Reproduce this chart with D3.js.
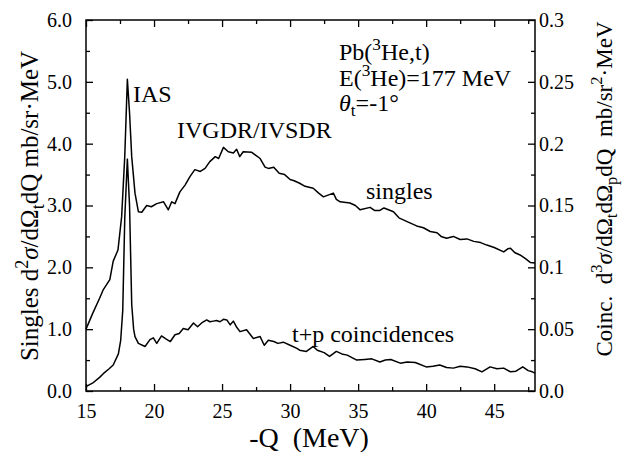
<!DOCTYPE html>
<html>
<head>
<meta charset="utf-8">
<script src="https://cdn.jsdelivr.net/npm/d3@7"></script>
<style>
  body { margin: 0; background: #fff; }
</style>
</head>
<body>
<div id="content"></div>
<script>
// -Q (MeV) vs singles cross section (left axis, mb/sr/MeV)
const singlesQ = [15.0, 15.5, 16.0, 16.25, 16.75, 17.0, 17.35, 17.62, 17.85, 18.04, 18.2, 18.36, 18.6, 18.85, 19.1, 19.46, 19.8, 20.2, 20.7, 21.05, 21.3, 21.54, 21.9, 22.28, 22.65, 23.0, 23.4, 23.75, 24.1, 24.5, 24.75, 25.1, 25.46, 25.83, 26.07, 26.3, 26.55, 27.18, 27.8, 28.16, 28.4, 28.8, 29.2, 29.6, 30.0, 30.3, 30.7, 31.1, 31.7, 32.1, 32.45, 33.18, 33.4, 33.68, 34.4, 34.8, 35.15, 35.88, 36.2, 36.6, 36.9, 37.6, 38.0, 38.6, 39.3, 39.8, 40.3, 40.8, 41.1, 41.5, 42.0, 42.5, 43.0, 43.5, 44.0, 44.46, 45.0, 45.7, 46.0, 46.2, 46.5, 46.9, 47.3, 47.65, 48.0]
const singlesVal = [1.00, 1.26, 1.50, 1.63, 1.80, 2.10, 2.28, 2.82, 3.80, 5.04, 4.50, 3.79, 3.20, 2.90, 2.89, 3.00, 2.98, 3.03, 3.06, 2.93, 3.06, 3.03, 3.22, 3.33, 3.47, 3.58, 3.55, 3.60, 3.71, 3.79, 3.76, 3.94, 3.87, 3.85, 3.91, 3.79, 3.87, 3.86, 3.76, 3.62, 3.60, 3.62, 3.52, 3.50, 3.42, 3.40, 3.36, 3.31, 3.28, 3.20, 3.14, 3.20, 3.10, 3.06, 3.04, 3.00, 2.93, 2.97, 2.92, 2.92, 2.96, 2.90, 2.80, 2.74, 2.67, 2.64, 2.58, 2.56, 2.50, 2.47, 2.50, 2.45, 2.46, 2.42, 2.40, 2.36, 2.32, 2.25, 2.30, 2.31, 2.24, 2.20, 2.14, 2.08, 2.07]

// -Q (MeV) vs t+p coincidence cross section (right axis)
const coincQ = [15.0, 15.5, 16.0, 16.27, 16.7, 17.0, 17.38, 17.55, 17.7, 17.85, 18.04, 18.2, 18.36, 18.5, 18.6, 18.85, 19.34, 19.7, 19.95, 20.2, 20.55, 20.9, 21.2, 21.54, 21.85, 22.15, 22.5, 22.9, 23.2, 23.5, 23.87, 24.1, 24.36, 24.6, 24.85, 25.1, 25.35, 25.6, 25.83, 26.05, 26.32, 26.8, 27.3, 27.8, 28.1, 28.4, 28.8, 29.1, 29.5, 30.0, 30.5, 30.7, 31.2, 31.7, 32.0, 32.5, 32.9, 33.4, 33.8, 34.2, 34.9, 35.5, 36.0, 36.6, 37.0, 37.4, 38.1, 38.6, 39.2, 40.0, 40.5, 41.0, 41.5, 42.0, 42.5, 43.0, 43.6, 44.1, 44.7, 45.2, 45.7, 46.2, 46.6, 47.1, 47.5, 47.8, 48.0]
const coincVal = [0.0035, 0.0065, 0.011, 0.014, 0.018, 0.021, 0.030, 0.041, 0.065, 0.14, 0.1875, 0.15, 0.07, 0.05, 0.044, 0.0385, 0.036, 0.0415, 0.043, 0.0385, 0.0445, 0.042, 0.040, 0.0455, 0.0465, 0.0505, 0.0495, 0.055, 0.052, 0.055, 0.0575, 0.056, 0.0565, 0.057, 0.056, 0.058, 0.0575, 0.0535, 0.0565, 0.052, 0.048, 0.0495, 0.0425, 0.044, 0.037, 0.041, 0.040, 0.0385, 0.0395, 0.037, 0.0345, 0.033, 0.032, 0.036, 0.033, 0.031, 0.028, 0.032, 0.030, 0.029, 0.025, 0.0255, 0.026, 0.0235, 0.025, 0.0255, 0.0225, 0.0235, 0.023, 0.0195, 0.020, 0.021, 0.019, 0.0185, 0.020, 0.0195, 0.018, 0.0155, 0.0195, 0.018, 0.0185, 0.0155, 0.016, 0.0195, 0.0165, 0.0155, 0.0145]

const xTicks = [15, 20, 25, 30, 35, 40, 45]
const xMinorTicks = [17.5, 22.5, 27.5, 32.5, 37.5, 42.5, 47.5]
const leftTicks = [0, 1, 2, 3, 4, 5, 6]
const leftMinorTicks = [0.5, 1.5, 2.5, 3.5, 4.5, 5.5]
const rightTicks = [0, 0.05, 0.1, 0.15, 0.2, 0.25, 0.3]
const rightMinorTicks = [0.025, 0.075, 0.125, 0.175, 0.225, 0.275]

const width = 623
const height = 452
const margin = { left: 86, right: 88, top: 20, bottom: 61 }
const plotW = width - margin.left - margin.right
const plotH = height - margin.top - margin.bottom
const serif = "'Liberation Serif'"

const svg = d3.select('#content')
    .append('svg')
    .attr('width', width)
    .attr('height', height)
    .style('font-family', serif)

const g = svg.append('g')
    .attr('transform', `translate(${margin.left},${margin.top})`)

const scaleX = d3.scaleLinear().domain([15, 48]).range([0, plotW])
const scaleY = d3.scaleLinear().domain([0, 6]).range([plotH, 0])
const scaleY2 = d3.scaleLinear().domain([0, 0.3]).range([plotH, 0])

const fontSize = 20
const major = 7
const minor = 4

const styleAxis = (sel) => {
    sel.attr('font-family', null).style('font-family', serif)
    sel.select('.domain').remove()
    sel.selectAll('line').attr('stroke', '#000').attr('stroke-width', 1.3)
    sel.selectAll('text').attr('font-size', fontSize).style('font-family', serif)
}

// bottom
g.append('g').attr('transform', `translate(0,${plotH})`)
    .call(d3.axisBottom(scaleX).tickValues(xTicks).tickSize(-major).tickPadding(13).tickFormat(d3.format('d')))
    .call(styleAxis)
g.append('g').attr('transform', `translate(0,${plotH})`)
    .call(d3.axisBottom(scaleX).tickValues(xMinorTicks).tickSize(-minor).tickFormat(''))
    .call(styleAxis)
// top
g.append('g')
    .call(d3.axisTop(scaleX).tickValues(xTicks).tickSize(-major).tickFormat(''))
    .call(styleAxis)
g.append('g')
    .call(d3.axisTop(scaleX).tickValues(xMinorTicks).tickSize(-minor).tickFormat(''))
    .call(styleAxis)
// left
g.append('g')
    .call(d3.axisLeft(scaleY).tickValues(leftTicks).tickSize(-major).tickPadding(14).tickFormat(d3.format('.1f')))
    .call(styleAxis)
g.append('g')
    .call(d3.axisLeft(scaleY).tickValues(leftMinorTicks).tickSize(-minor).tickFormat(''))
    .call(styleAxis)
// right
g.append('g').attr('transform', `translate(${plotW},0)`)
    .call(d3.axisRight(scaleY2).tickValues(rightTicks).tickSize(-major).tickPadding(4)
        .tickFormat(d => d === 0 ? '0.0' : String(+d.toFixed(3))))
    .call(styleAxis)
g.append('g').attr('transform', `translate(${plotW},0)`)
    .call(d3.axisRight(scaleY2).tickValues(rightMinorTicks).tickSize(-minor).tickFormat(''))
    .call(styleAxis)

// frame
g.append('rect')
    .attr('width', plotW)
    .attr('height', plotH)
    .attr('fill', 'none')
    .attr('stroke', '#000')
    .attr('stroke-width', 1.5)

// curves
const singles = d3.zip(singlesQ, singlesVal)
const coinc = d3.zip(coincQ, coincVal)

g.append('path')
    .datum(singles)
    .attr('fill', 'none')
    .attr('stroke', '#000')
    .attr('stroke-width', 1.5)
    .attr('stroke-linejoin', 'round')
    .attr('d', d3.line().x(d => scaleX(d[0])).y(d => scaleY(d[1])))

g.append('path')
    .datum(coinc)
    .attr('fill', 'none')
    .attr('stroke', '#000')
    .attr('stroke-width', 1.5)
    .attr('stroke-linejoin', 'round')
    .attr('d', d3.line().x(d => scaleX(d[0])).y(d => scaleY2(d[1])))

// text helper: parts are [text, kind] where kind is '', 'sup', 'sub'
const richText = (parent, parts, size) => {
    const t = parent.append('text')
        .attr('font-size', size)
        .style('font-family', serif)
        .style('white-space', 'pre')
    let shift = 0
    parts.forEach(([s, kind]) => {
        const target = kind === 'sup' ? -0.42 * size : kind === 'sub' ? 0.22 * size : 0
        t.append('tspan')
            .attr('dy', target - shift)
            .attr('font-size', kind ? size * 0.72 : size)
            .attr('font-style', s === 'σ' || s === 'θ' ? 'italic' : null)
            .text(s)
        shift = target
    })
    return t
}

// axis titles
richText(svg, [['-Q  (MeV)', '']], 28)
    .attr('x', 309)
    .attr('y', 447)
    .attr('text-anchor', 'middle')

richText(svg, [['Singles d', ''], ['2', 'sup'], ['σ', ''], ['/dΩ', ''], ['t', 'sub'], ['dQ mb/sr·MeV', '']], 25)
    .attr('text-anchor', 'middle')
    .attr('transform', `translate(38,206) rotate(-90)`)

richText(svg, [['Coinc.  d', ''], ['3', 'sup'], ['σ', ''], ['/dΩ', ''], ['t', 'sub'], ['dΩ', ''], ['p', 'sub'], ['dQ  mb/sr', ''], ['2', 'sup'], ['·MeV', '']], 23)
    .attr('text-anchor', 'middle')
    .attr('transform', `translate(612,189) rotate(-90)`)

// annotations
richText(svg, [['Pb(', ''], ['3', 'sup'], ['He,t)', '']], 24).attr('x', 339).attr('y', 60)
richText(svg, [['E(', ''], ['3', 'sup'], ['He)=177 MeV', '']], 24).attr('x', 339).attr('y', 86)
richText(svg, [['θ', ''], ['t', 'sub'], ['=-1°', '']], 24).attr('x', 339).attr('y', 111)
richText(svg, [['IAS', '']], 24).attr('x', 133).attr('y', 102)
richText(svg, [['IVGDR/IVSDR', '']], 24).attr('x', 177).attr('y', 138)
richText(svg, [['singles', '']], 24).attr('x', 366).attr('y', 199)
richText(svg, [['t+p coincidences', '']], 24).attr('x', 292).attr('y', 342)
</script>
</body>
</html>
